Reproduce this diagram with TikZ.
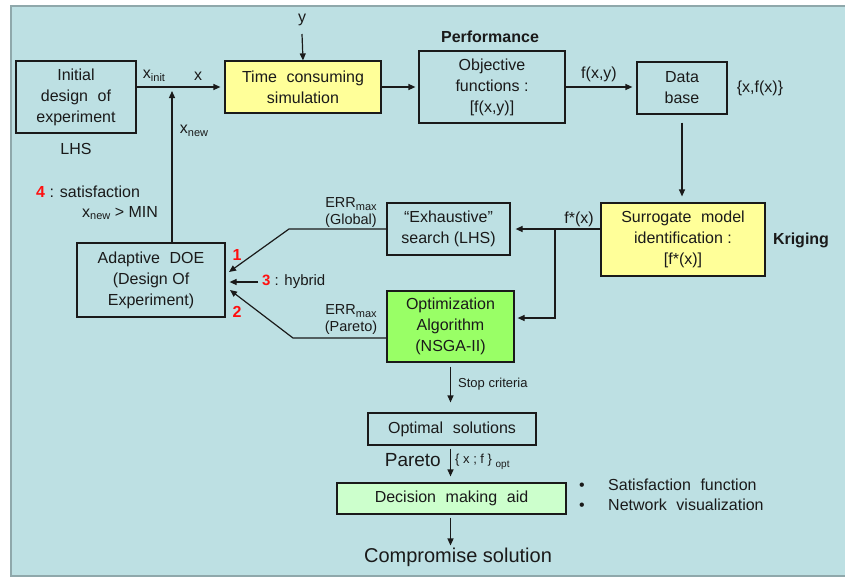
\documentclass[tikz,border=0pt]{standalone}
\usepackage{fontspec}
\setmainfont{Liberation Sans}
\usetikzlibrary{arrows.meta,calc}
\definecolor{bgblue}{HTML}{BDE0E3}
\definecolor{bgborder}{HTML}{8FA8AB}
\definecolor{simyellow}{HTML}{FFFF99}
\definecolor{optgreen}{HTML}{99FF66}
\definecolor{decgreen}{HTML}{CCFFCC}
\definecolor{numred}{HTML}{FF1010}
\definecolor{ink}{HTML}{1A1A1A}
\newcommand{\sbs}[1]{\raisebox{-0.3ex}{\fontsize{11}{11}\selectfont #1}}
\newcommand{\wsp}{\hspace{0.6em}}
\begin{document}
\begin{tikzpicture}[x=1pt,y=-1pt,
  font=\fontsize{16}{21}\selectfont, text=ink,
  box/.style={draw=ink, line width=1.2pt, align=center, inner sep=0pt},
  lbl/.style={inner sep=0pt, align=center},
  small/.style={inner sep=0pt, align=center, font=\fontsize{14.5}{16}\selectfont},
  num/.style={text=numred, font=\fontsize{16}{16}\selectfont\bfseries, inner sep=0pt},
  conn/.style={draw=ink, line width=1.2pt, -{Triangle[length=7pt,width=6pt]}},
  plain/.style={draw=ink, line width=1.2pt}]
\useasboundingbox (0,0) rectangle (845,579);
\fill[white] (0,0) rectangle (845,579);
\fill[bgblue] (11,6) rectangle (845,576);
\draw[bgborder, line width=1.5pt] (845,6) -- (11,6) -- (11,576) -- (845,576);

% boxes
\node[box, minimum width=120pt, minimum height=72pt] (init) at (76,97) {Initial\\design\wsp of\\experiment};
\node[box, fill=simyellow, minimum width=156pt, minimum height=52pt] (sim) at (303,87) {Time\wsp consuming\\simulation};
\node[box, minimum width=146pt, minimum height=72pt] (obj) at (492,87) {Objective\\functions :\\{[f(x,y)]}};
\node[box, minimum width=90pt, minimum height=52pt] (db) at (682,88) {Data\\base};
\node[box, fill=simyellow, minimum width=164pt, minimum height=73pt] (sur) at (683,239.5) {Surrogate\wsp model\\identification :\\{[f*(x)]}};
\node[box, minimum width=123pt, minimum height=52pt] (exh) at (448.5,229) {“Exhaustive”\\search (LHS)};
\node[box, fill=optgreen, minimum width=127pt, minimum height=71pt] (opt) at (450.5,326.5) {Optimization\\Algorithm\\(NSGA-II)};
\node[box, minimum width=148pt, minimum height=74pt] (ada) at (151,280) {Adaptive\wsp DOE\\(Design Of\\Experiment)};
\node[box, minimum width=168pt, minimum height=32pt] (osol) at (452,429) {Optimal\wsp solutions};
\node[box, fill=decgreen, minimum width=229pt, minimum height=31pt] (dec) at (451.5,498.5) {Decision\wsp making\wsp aid};

% labels
\node[lbl] (lhs) at (76,149) {LHS};
\node[lbl] (xinit) at (154,76) {x\sbs{init}};
\node[lbl] (xlab) at (198,76) {x};
\node[lbl] (xnew) at (194,131) {x\sbs{new}};
\node[lbl] (ylab) at (302,20) {y};
\node[lbl, font=\fontsize{16}{16}\selectfont\bfseries] (perf) at (490,37) {Performance};
\node[lbl] (fxy) at (599,74) {f(x,y)};
\node[lbl] (xfx) at (760,88) {\{x,f(x)\}};
\node[lbl, font=\fontsize{16}{16}\selectfont\bfseries] (krig) at (801,240) {Kriging};
\node[lbl] (fstar) at (579,219) {f*(x)};
\node[small] (errg) at (351,213) {ERR\sbs{max}\\[1pt](Global)};
\node[small] (errp) at (351,320) {ERR\sbs{max}\\[1pt](Pareto)};
\node[num] (n1) at (237,255) {1};
\node[num] (n2) at (237,312) {2};
\node[anchor=west, inner sep=0pt, font=\fontsize{15}{15}\selectfont] (n3) at (262,282) {\textcolor{numred}{\textbf{3}} : hybrid};
\node[anchor=west, inner sep=0pt] (n4) at (36,192) {\textcolor{numred}{\textbf{4}} : satisfaction};
\node[anchor=west, inner sep=0pt] (xmin) at (82,213) {x\sbs{new} > MIN};
\node[anchor=west, inner sep=0pt, font=\fontsize{13}{13}\selectfont] (stop) at (458,384) {Stop criteria};
\node[anchor=east, inner sep=0pt, font=\fontsize{19}{19}\selectfont] (par) at (441,460) {Pareto};
\node[anchor=west, inner sep=0pt, font=\fontsize{13}{13}\selectfont] (xfopt) at (455,462) {\{ x ; f \} \raisebox{-0.5ex}{\fontsize{10}{10}\selectfont opt}};
\node[anchor=west, inner sep=0pt] (s1) at (608,485) {Satisfaction\wsp function};
\node[anchor=west, inner sep=0pt] (s2) at (608,505) {Network\wsp visualization};
\coordinate (bx) at (582,0);
\node[anchor=base, inner sep=0pt] (b1) at (bx |- s1.base) {•};
\node[anchor=base, inner sep=0pt] (b2) at (bx |- s2.base) {•};
\node[lbl, font=\fontsize{20}{20}\selectfont] (comp) at (458,557) {Compromise solution};

% coordinates
\coordinate (ytop) at (302,34);
\coordinate (xj) at (172,91);
\coordinate (br) at (555,229);
\coordinate (g1) at (289,229);
\coordinate (a1) at (229,272);
\coordinate (g2) at (293,338);
\coordinate (a2) at (230,290);
\coordinate (h3) at (258,282);

% connectors
\draw[conn] (ytop) -- (sim.north);
\draw[conn, shorten >=4pt] (init.east |- sim.west) -- (sim.west);
\draw[conn] (ada.north -| xj) -- (xj);
\draw[conn, shorten >=3pt] (sim.east) -- (obj.west);
\draw[conn, shorten >=4pt] (obj.east) -- (obj.east -| db.west);
\draw[conn, shorten <=8pt, shorten >=6pt] (db.south) -- (db.south |- sur.north);
\draw[conn, shorten >=5pt] (sur.west |- exh.east) -- (exh.east);
\draw[conn, shorten >=3pt] (br) |- ([yshift=8.5pt]opt.east);
\draw[conn] (exh.west) -- (g1) -- (a1);
\draw[conn] (opt.west |- g2) -- (g2) -- (a2);
\draw[conn, shorten >=4pt] (h3) -- (ada.east |- h3);
\draw[conn, shorten <=4pt, shorten >=10pt] (opt.south) -- (opt.south |- osol.north);
\draw[conn, shorten <=3pt, shorten >=6pt] (osol.south -| opt.south) -- (opt.south |- dec.north);
\draw[conn, shorten <=3pt, shorten >=2pt] (dec.south -| opt.south) -- (opt.south |- comp.north);
\end{tikzpicture}
\end{document}
